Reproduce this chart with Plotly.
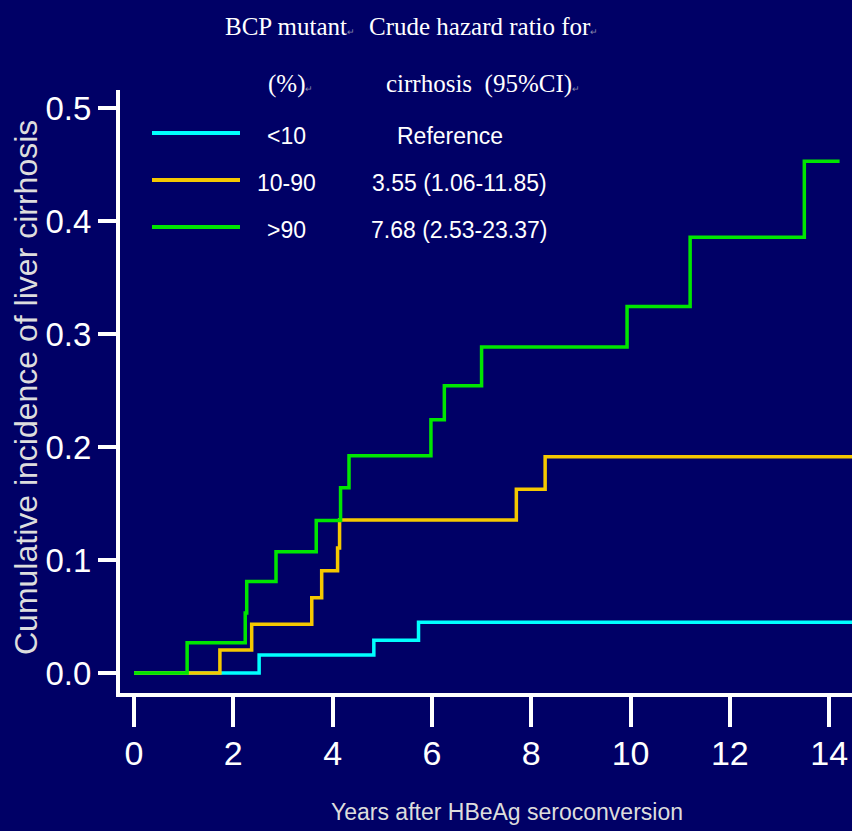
import plotly.graph_objects as go

# Kaplan-Meier style cumulative incidence of cirrhosis by BCP mutant fraction
groups = ["<10", "10-90", ">90"]
hazard_text = ["Reference", "3.55 (1.06-11.85)", "7.68 (2.53-23.37)"]

years_lt10 = [0, 2.52, 4.83, 5.73, 14.5]
inc_lt10 = [0, 0.016, 0.029, 0.045, 0.045]

years_10_90 = [0, 1.73, 2.37, 3.58, 3.78, 4.10, 4.14, 7.70, 8.28, 14.5]
inc_10_90 = [0, 0.0204, 0.0431, 0.0667, 0.0906, 0.1107, 0.1355, 0.1627, 0.1913, 0.1913]

years_gt90 = [0, 1.07, 2.24, 2.27, 2.86, 3.67, 4.16, 4.33, 5.98, 6.25, 7.0, 9.93, 11.2, 13.5, 14.21]
inc_gt90 = [0, 0.0268, 0.0531, 0.0809, 0.1074, 0.1349, 0.1639, 0.1922, 0.2241, 0.2542,
            0.2885, 0.3244, 0.3856, 0.4529, 0.4529]

x_ticks = [0, 2, 4, 6, 8, 10, 12, 14]
y_ticks = [0.0, 0.1, 0.2, 0.3, 0.4, 0.5]

colors = ["#00FFFF", "#F5C800", "#00E600"]
BG = "#000066"
W, H = 852, 831
ML, MR, MT, MB = 120, 0, 90, 138
PW, PH = W - ML - MR, H - MT - MB


def px(x):
    return (x - ML) / PW


def py(y):
    return (H - MB - y) / PH


fig = go.Figure()
for xs, ys, c, name in [(years_lt10, inc_lt10, colors[0], groups[0]),
                         (years_10_90, inc_10_90, colors[1], groups[1]),
                         (years_gt90, inc_gt90, colors[2], groups[2])]:
    fig.add_trace(go.Scatter(x=xs, y=ys, mode="lines", name=name,
                             line=dict(color=c, width=3.5, shape="hv"),
                             showlegend=False))

sans = "Liberation Sans, Arial, sans-serif"
serif = "Liberation Serif, Times New Roman, serif"

fig.update_layout(
    width=W, height=H,
    margin=dict(l=ML, r=MR, t=MT, b=MB, pad=0),
    paper_bgcolor=BG, plot_bgcolor=BG,
    xaxis=dict(range=[-0.282, 14.46], tickvals=x_ticks, ticktext=[str(v) for v in x_ticks],
               showgrid=False, zeroline=False, showline=True, linecolor="white", linewidth=4,
               ticks="outside", ticklen=30, tickwidth=4, tickcolor="white",
               ticklabeloverflow="allow", ticklabelstandoff=-3,
               tickfont=dict(family=sans, size=34, color="white")),
    yaxis=dict(range=[-0.0177, 0.516], tickvals=y_ticks, tickformat=".1f",
               showgrid=False, zeroline=False, showline=True, linecolor="white", linewidth=4,
               ticks="outside", ticklen=18, tickwidth=4, tickcolor="white",
               tickfont=dict(family=sans, size=33, color="white")),
)

mark = "<span style='font-size:9px;color:#8888aa'>\u21b5</span>"
header = [("BCP mutant" + mark, 290, 27), ("(%)" + mark, 290, 84),
          ("Crude hazard ratio for" + mark, 483, 27),
          ("cirrhosis&nbsp; (95%CI)" + mark, 483, 84)]
for txt, x, y in header:
    fig.add_annotation(text=txt, x=px(x), y=py(y), xref="paper", yref="paper",
                       xanchor="center", yanchor="middle", showarrow=False,
                       font=dict(family=serif, size=25, color="white"))

# legend block: sample line, group label, crude hazard ratio
leg_y = [133, 180, 227]
hr_x = [450, 459, 459]
for i in range(3):
    fig.add_shape(type="line", xref="paper", yref="paper",
                  x0=px(152), x1=px(240), y0=py(leg_y[i]), y1=py(leg_y[i]),
                  line=dict(color=colors[i], width=4))
    fig.add_annotation(text=groups[i], x=px(286), y=py(leg_y[i] + 3), xref="paper", yref="paper",
                       xanchor="center", yanchor="middle", showarrow=False,
                       font=dict(family=sans, size=23, color="white"))
    fig.add_annotation(text=hazard_text[i], x=px(hr_x[i]), y=py(leg_y[i] + 3), xref="paper", yref="paper",
                       xanchor="center", yanchor="middle", showarrow=False,
                       font=dict(family=sans, size=23, color="white"))

fig.add_annotation(text="Years after HBeAg seroconversion", x=px(507), y=py(812),
                   xref="paper", yref="paper", xanchor="center", yanchor="middle",
                   showarrow=False, font=dict(family=sans, size=23, color="#DDDDDD"))
fig.add_annotation(text="Cumulative incidence of liver cirrhosis", x=px(26), y=py(388),
                   xref="paper", yref="paper", xanchor="center", yanchor="middle",
                   textangle=-90, showarrow=False,
                   font=dict(family=sans, size=32, color="#DDDDDD"))

fig.write_html("out.html")
